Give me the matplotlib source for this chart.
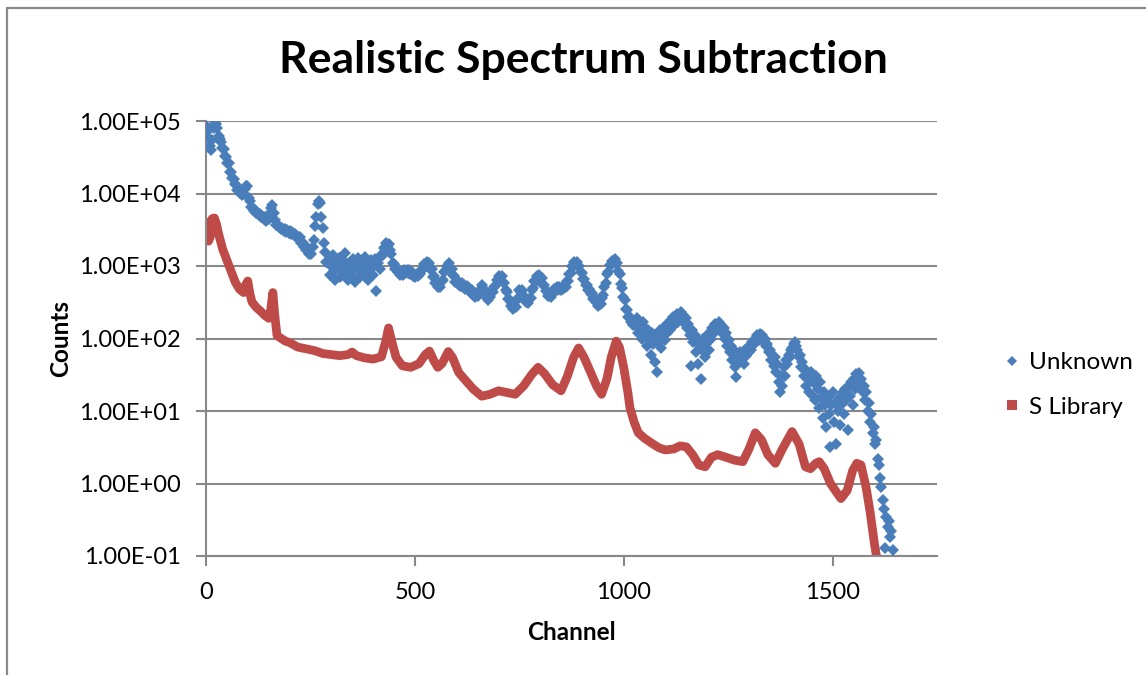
import matplotlib
matplotlib.use("Agg")
import matplotlib.pyplot as plt
from matplotlib.lines import Line2D
from matplotlib.patches import Rectangle
from matplotlib.ticker import FixedLocator, FuncFormatter, NullLocator

plt.rcParams['font.family'] = ['Lato', 'DejaVu Sans']

# ---- measured spectrum (every 3 channels) ----
unknown_channel = list(range(0, 1645, 3))
unknown_counts = [
    # 0 - 27
    85000, 60000, 75000, 45000, 40000, 55000, 80000, 95000, 90000, 80000,
    # 30 - 90
    62000, 56000, 52000, 43000, 41000, 33000, 32000, 26000, 26000, 20000,
    20000, 16500, 16000, 13500, 13000, 11000, 11500, 10200, 10300, 9500, 9900,
    # 93 - 150
    11500, 12800, 12500, 8800, 7800, 6600, 6600, 5800, 6000, 5300,
    5500, 5000, 5200, 4700, 4900, 4400, 4700, 4200, 4500, 4400,
    # 153 - 204
    5400, 6300, 7000, 5300, 4300, 3700, 3700, 3400, 3500, 3200,
    3350, 3050, 3200, 2950, 3100, 2850, 3000, 2750,
    # 207 - 291
    2900, 2650, 2800, 2500, 2600, 2350, 2500, 2100, 2150, 1850,
    1950, 1650, 1650, 1450, 1500, 1450, 1850, 2300, 3600, 4800,
    7200, 8000, 7300, 4800, 3300, 2100, 1550, 1150, 1150,
    # 294 - 420
    1200, 750, 1000, 1400, 850, 650, 1100, 950, 1300, 700,
    1000, 1200, 800, 1500, 900, 650, 1100, 1000, 750, 1250,
    950, 600, 1050, 1300, 850, 700, 1150, 1000, 800, 1350,
    900, 650, 1100, 950, 1200, 750, 1000, 1250, 450, 1100,
    1300, 900, 1400,
    # 423 - 510
    1400, 1750, 1800, 2100, 1950, 2000, 1650, 1450, 1100, 1050,
    900, 950, 820, 870, 760, 810, 760, 870, 800, 880,
    790, 880, 770, 820, 730, 770, 700, 760, 730, 810,
    # 513 - 600
    780, 920, 900, 1050, 980, 1150, 1060, 1100, 900, 900,
    710, 720, 590, 610, 520, 570, 520, 630, 650, 820,
    840, 1010, 980, 1100, 930, 920, 740, 730, 610, 630,
    # 603 - 690
    560, 610, 530, 580, 510, 550, 480, 530, 460, 500,
    440, 460, 400, 420, 370, 400, 380, 450, 460, 540,
    480, 480, 390, 400, 340, 380, 370, 440, 440, 520,
    # 693 - 780
    530, 650, 640, 730, 680, 720, 610, 590, 460, 440,
    350, 350, 285, 295, 255, 290, 275, 335, 360, 460,
    440, 460, 380, 380, 315, 335, 305, 355, 360, 460,
    # 783 - 870
    500, 630, 630, 730, 690, 760, 690, 690, 550, 540,
    450, 450, 380, 410, 370, 430, 420, 480, 460, 510,
    470, 520, 470, 520, 480, 530, 520, 620, 630, 780,
    # 873 - 960
    810, 990, 980, 1130, 1050, 1150, 1000, 1000, 820, 810,
    670, 670, 550, 550, 470, 480, 410, 420, 350, 370,
    315, 325, 285, 315, 295, 365, 400, 520, 590, 780,
    # 963 - 1026
    830, 1020, 1020, 1180, 1110, 1230, 1100, 1100, 860, 780,
    570, 500, 370, 340, 255, 245, 200, 200, 170, 180, 155, 165,
    # 1029 - 1644
    150, 190, 120, 160, 135, 100, 170, 140, 110, 80,
    130, 95, 60, 120, 85, 48, 105, 34, 90, 130,
    75, 110, 140, 95, 150, 120, 165, 130, 180, 145,
    200, 160, 190, 220, 170, 210, 230, 180, 210, 160,
    190, 140, 160, 110, 42, 130, 90, 110, 65, 95,
    45, 80, 28, 70, 100, 55, 85, 110, 70, 120,
    100, 140, 120, 160, 135, 155, 170, 140, 155, 120,
    140, 100, 120, 80, 95, 65, 80, 50, 70, 40,
    29, 55, 48, 65, 52, 60, 45, 70, 58, 75,
    65, 80, 70, 90, 85, 100, 90, 110, 95, 115,
    100, 110, 90, 100, 80, 85, 65, 70, 50, 60,
    42, 55, 35, 45, 25, 18, 30, 22, 40, 30,
    50, 45, 60, 55, 70, 75, 85, 90, 80, 70,
    55, 60, 40, 48, 30, 38, 22, 33, 18, 28,
    35, 16, 24, 14, 30, 20, 11, 25, 15, 8,
    18, 12, 6, 15, 9, 3.2, 12, 18, 7, 13,
    3.5, 10, 15, 6.5, 12, 18, 9, 20, 14, 5.5,
    22, 16, 25, 12, 28, 20, 32, 26, 33, 24,
    28, 18, 22, 14, 18, 10, 13, 7, 9, 5,
    6, 3.5, 4, 2.2, 1.8, 1.2, 0.9, 0.6, 0.45, 0.13,
    0.35, 0.25, 0.3, 0.18, 0.22, 0.12,
]

# ---- library spectrum ----
library_channel = [
    0, 3, 6, 10, 15, 20, 25, 30, 40, 50, 60, 70, 80, 90, 95, 100, 105, 110,
    120, 130, 140, 150, 155, 160, 165, 170, 180, 190, 200, 220, 240, 260,
    280, 300, 320, 340, 350, 360, 380, 400, 420, 430, 437, 445, 455, 470,
    490, 510, 525, 535, 545, 555, 565, 580, 590, 605, 620, 640, 660, 680,
    700, 720, 740, 760, 780, 795, 810, 830, 850, 865, 880, 892, 905, 920,
    935, 947, 960, 970, 982, 990, 1000, 1010, 1015, 1025, 1035, 1050, 1070,
    1085, 1100, 1120, 1135, 1150, 1165, 1180, 1195, 1210, 1225, 1245, 1265,
    1285, 1300, 1315, 1330, 1345, 1363, 1380, 1403, 1420, 1435, 1447, 1460,
    1468, 1480, 1495, 1510, 1520, 1535, 1548, 1558, 1568, 1580, 1590, 1600,
    1605, 1610,
]
library_counts = [
    4500, 4200, 2200, 2500, 4500, 4600, 3800, 2800, 1700, 1200, 850, 600,
    480, 430, 550, 620, 420, 320, 270, 240, 210, 190, 250, 430, 200, 110,
    100, 92, 88, 76, 72, 68, 62, 60, 58, 60, 65, 58, 54, 52, 56, 90, 140,
    90, 55, 42, 40, 45, 60, 67, 50, 40, 45, 66, 55, 34, 27, 20, 16, 17,
    19, 18, 17, 22, 32, 40, 33, 23, 19, 30, 55, 74, 55, 35, 22, 17, 28,
    55, 92, 75, 40, 18, 11, 7, 5, 4.2, 3.5, 3.1, 2.9, 3.0, 3.3, 3.2, 2.5,
    1.8, 1.7, 2.3, 2.5, 2.3, 2.1, 2.0, 3.0, 5.0, 4.0, 2.5, 1.9, 3.0, 5.2,
    3.5, 1.7, 1.6, 1.9, 2.0, 1.6, 1.0, 0.75, 0.62, 0.8, 1.5, 1.9, 1.8,
    0.9, 0.4, 0.15, 0.1, 0.07,
]

y_ticks = [1e-1, 1e0, 1e1, 1e2, 1e3, 1e4, 1e5]
x_ticks = [0, 500, 1000, 1500]

BLUE = '#4A7EBB'
RED = '#BE4B48'
GRID = '#888888'

fig = plt.figure(figsize=(11.46, 6.75), dpi=100)
ax = fig.add_axes([206 / 1146, 1 - 556 / 675, (937 - 206) / 1146, (556 - 121) / 675])

ax.plot(library_channel, library_counts, color=RED, lw=6.3,
        solid_joinstyle='round', solid_capstyle='butt', zorder=2)
ax.plot(unknown_channel, unknown_counts, linestyle='none', marker='D',
        markersize=5.8, color=BLUE, markeredgewidth=0, zorder=3)

ax.set_yscale('log')
ax.set_xlim(0, 1750)
ax.set_ylim(0.1, 1e5)
ax.yaxis.set_major_locator(FixedLocator(y_ticks))
ax.yaxis.set_minor_locator(NullLocator())
ax.yaxis.set_major_formatter(FuncFormatter(lambda v, p: f"{v:.2E}"))
ax.xaxis.set_major_locator(FixedLocator(x_ticks))

ax.grid(axis='y', color=GRID, lw=1.5)
ax.set_axisbelow(True)
for side in ('top', 'right'):
    ax.spines[side].set_visible(False)
for side in ('left', 'bottom'):
    ax.spines[side].set_color(GRID)
    ax.spines[side].set_linewidth(1.5)
ax.tick_params(axis='both', colors=GRID, length=7, width=1.5, labelcolor='black',
               labelsize=17)
ax.tick_params(axis='x', pad=12)
ax.tick_params(axis='y', pad=11)

ax.set_xlabel('Channel', fontsize=17.5, fontweight='bold', labelpad=13)
ax.set_ylabel('Counts', fontsize=17.5, fontweight='bold', labelpad=5)
fig.text(583 / 1146, 1 - 60 / 675, 'Realistic Spectrum Subtraction',
         ha='center', va='center', fontsize=32, fontweight='bold')

handles = [
    Line2D([], [], linestyle='none', marker='D', markersize=5, color=BLUE,
           markeredgewidth=0),
    Line2D([], [], linestyle='none', marker='s', markersize=7, color=RED,
           markeredgewidth=0),
]
fig.legend(handles, ['Unknown', 'S Library'], loc='center left',
           bbox_to_anchor=(980 / 1146, 1 - 385 / 675), frameon=False,
           fontsize=17.5, handlelength=0.8, handletextpad=0.3,
           labelspacing=0.95)

# chart frame
fig.add_artist(Rectangle((7 / 1146, -0.2), 1.3, 1.2 - 8 / 675,
                         transform=fig.transFigure, fill=False,
                         edgecolor=GRID, lw=1.6))

fig.savefig('out.png', dpi=100)
